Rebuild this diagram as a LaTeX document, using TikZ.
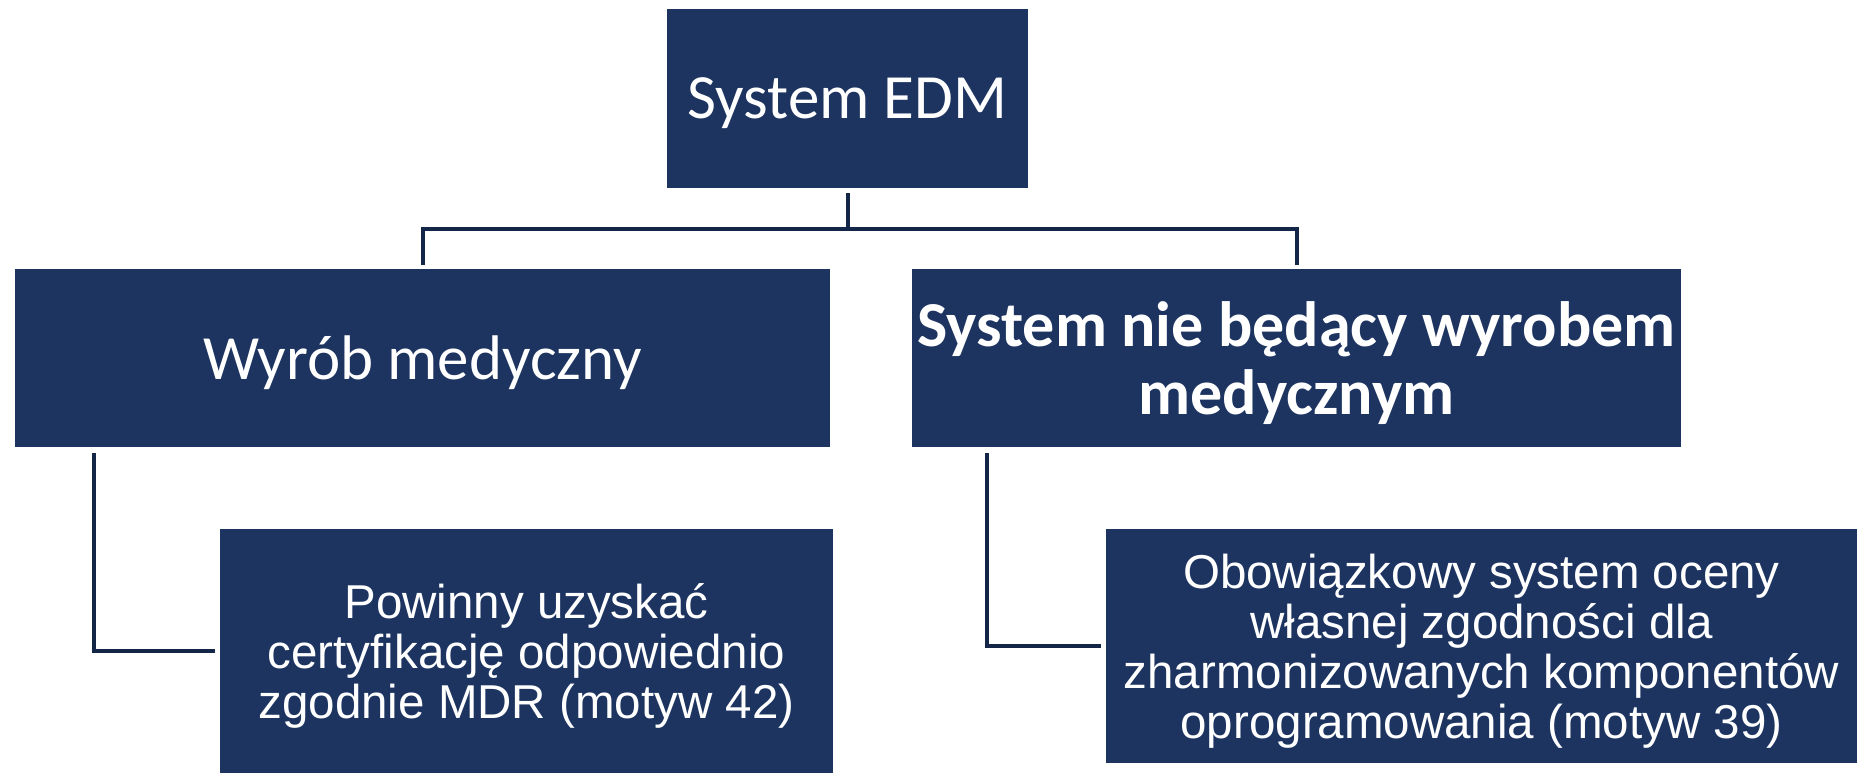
\documentclass[tikz,border=0pt]{standalone}
\usepackage{fontspec}
\setmainfont{Carlito}
\newfontfamily\arialfont{Liberation Sans}
\usepackage{xcolor}
\usepackage{tikz}
\definecolor{edmnavy}{RGB}{29,52,97}
\definecolor{edmline}{RGB}{20,38,72}
\tikzset{
	edmbox/.style = {rectangle, fill = edmnavy, text = white, inner sep = 0pt, align = center, text depth = 0pt},
	calibri/.style = {font = \fontsize{31.5}{34}\selectfont},
	arial/.style = {font = \arialfont\fontsize{23.75}{25}\selectfont},
	conn/.style = {draw = edmline, line width = 2pt}
}

\begin{document}
\begin{tikzpicture}[x = 0.5pt, y = -0.5pt]
			\useasboundingbox (0,0) rectangle (1857,773);
			
			\node[edmbox, calibri, minimum width = 180.5pt, minimum height = 89.5pt] (edm) at (847.5,98.5) {System EDM};
			\node[edmbox, calibri, minimum width = 407.5pt, minimum height = 89pt] (wyrob) at (422.5,358) {Wyrób medyczny};
			\node[edmbox, font = \bfseries\fontsize{32}{34}\selectfont, minimum width = 384.5pt, minimum height = 89pt] (niewyrob) at (1296.5,358) {System nie będący wyrobem\\medycznym};
			\node[edmbox, arial, minimum width = 306.5pt, minimum height = 122pt] (mdr) at (526.5,651) {Powinny uzyskać\\certyfikację odpowiednio\\zgodnie MDR (motyw 42)};
			\node[edmbox, arial, minimum width = 375.5pt, minimum height = 117pt] (ocena) at (1481.5,646) {Obowiązkowy system oceny\\własnej zgodności dla\\zharmonizowanych komponentów\\oprogramowania (motyw 39)};
			
			% lines from the top box
			\coordinate (bar) at ([yshift = -20.5pt]edm.south);
			\draw[conn] ([yshift = -2.5pt]edm.south) -- (bar);
			\draw[conn] ([yshift = 2pt]wyrob.north) |- (bar) -| ([yshift = 2pt]niewyrob.north);
			
			% elbows to the lower boxes
			\draw[conn] ([xshift = 39.75pt, yshift = -3pt]wyrob.south west) |- ([xshift = -2.5pt]mdr.west);
			\draw[conn] ([xshift = 37.5pt, yshift = -3pt]niewyrob.south west) |- ([xshift = -2.5pt]ocena.west);
			
\end{tikzpicture}
\end{document}
